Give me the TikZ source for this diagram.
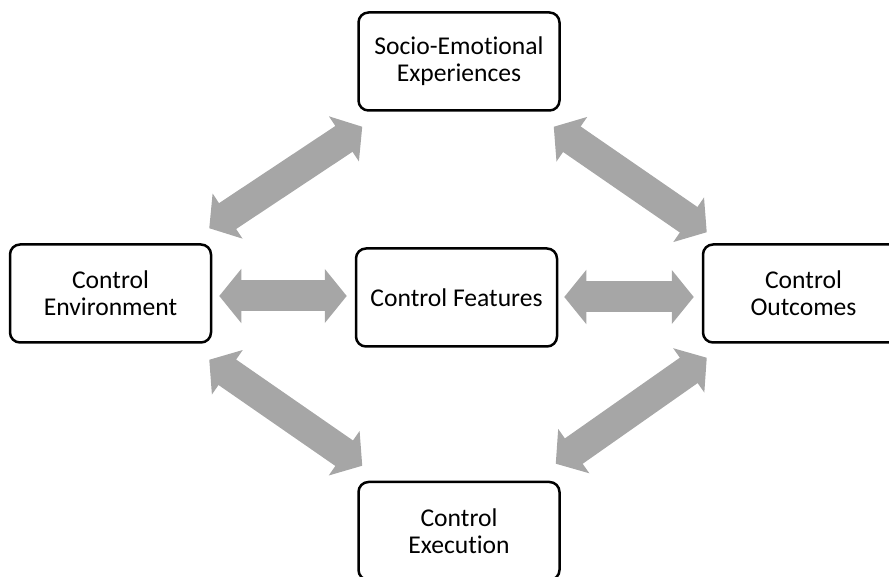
\documentclass[tikz,border=0pt]{standalone}
\usepackage{fontspec}
\setmainfont{Carlito}[Ligatures=NoCommon]
\usetikzlibrary{arrows.meta}

\begin{document}
\begin{tikzpicture}[x=1pt, y=1pt,
  box/.style={draw, line width=2.5pt, rounded corners=10pt, align=center,
    minimum width=201pt, minimum height=98pt, inner sep=0pt,
    font=\fontsize{25.6}{27}\selectfont},
  twoway/.style={draw=black!35, line width=31pt,
    {Triangle[length=22pt, width=53pt]}-{Triangle[length=22pt, width=53pt]}}]
  \useasboundingbox (0,0) rectangle (889,577);
  % boxes
  \node[box] (socio) at (459,515.5) {Socio-Emotional\\Experiences};
  \node[box] (env) at (110.5,283.5) {Control\\Environment};
  \node[box] (feat) at (456.5,279.5) {Control Features};
  \node[box] (outc) at (803.5,283.5) {Control\\Outcomes};
  \node[box] (exec) at (459,46) {Control\\Execution};
  % horizontal arrows
  \draw[twoway, shorten <=7pt, shorten >=8pt] (env.east |- 0,281) -- (feat.west |- 0,281);
  \draw[twoway, shorten <=6pt, shorten >=8pt] (feat.east |- 0,280) -- (outc.west |- 0,280);
  % diagonal arrows
  \draw[twoway] ([shift={(-3,15)}]env.north east) -- ([shift={(5,-15)}]socio.south west);
  \draw[twoway] ([shift={(-7,-15)}]socio.south east) -- ([shift={(5,11)}]outc.north west);
  \draw[twoway] ([shift={(-3,-16)}]env.south east) -- ([shift={(5,15)}]exec.north west);
  \draw[twoway] ([shift={(-5,17)}]exec.north east) -- ([shift={(5,-14)}]outc.south west);
\end{tikzpicture}
\end{document}
